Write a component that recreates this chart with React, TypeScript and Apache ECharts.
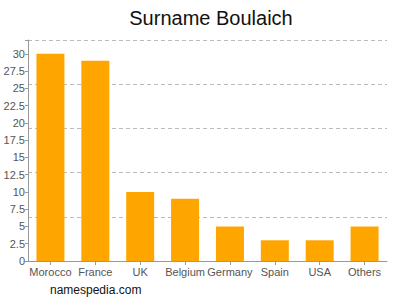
import React, { useEffect, useRef } from "react";
import * as echarts from "echarts";

const categories = ["Morocco", "France", "UK", "Belgium", "Germany", "Spain", "USA", "Others"];
const counts = [30, 29, 10, 9, 5, 3, 3, 5];

export default function App() {
  const ref = useRef<HTMLDivElement>(null);
  useEffect(() => {
    const chart = echarts.init(ref.current!, null, { renderer: "svg" });
    chart.setOption({
      animation: false,
      title: {
        text: "Surname Boulaich",
        left: 206,
        textAlign: "center",
        top: 3,
        textStyle: { fontFamily: "Liberation Sans, Arial", fontSize: 20, fontWeight: "normal", color: "#111" },
      },
      graphic: [
        {
          type: "text",
          left: 50,
          top: 284,
          style: { text: "namespedia.com", font: "12px 'Liberation Sans', Arial", fill: "#111" },
        },
      ],
      grid: { left: 28, right: 13, top: 40, bottom: 39, containLabel: false },
      xAxis: {
        type: "category",
        data: categories,
        axisLine: { lineStyle: { color: "#999" } },
        axisTick: { show: true, alignWithLabel: true, length: 4, lineStyle: { color: "#999" } },
        axisLabel: { color: "#555", fontSize: 11, fontFamily: "Liberation Sans, Arial", margin: 5, interval: 0 },
      },
      yAxis: [
        {
          type: "value",
          min: 0,
          max: 32,
          interval: 2.5,
          axisLine: { show: true, lineStyle: { color: "#999" } },
          axisTick: { show: true, length: 3, lineStyle: { color: "#999" } },
          axisLabel: {
            color: "#555",
            fontSize: 11,
            fontFamily: "Liberation Sans, Arial",
            margin: 3,
            formatter: (v: number) => (v > 30 ? "" : String(v)),
          },
          splitLine: { show: false },
        },
        {
          type: "value",
          min: 0,
          max: 5,
          interval: 1,
          position: "right",
          axisLine: { show: false },
          axisTick: { show: false },
          axisLabel: { show: false },
          splitLine: { show: true, lineStyle: { color: "#bbb", type: [4, 3] } },
        },
      ],
      series: [
        {
          type: "bar",
          data: counts,
          yAxisIndex: 0,
          barWidth: 28,
          itemStyle: { color: "#FFA500" },
        },
      ],
    });
    return () => chart.dispose();
  }, []);
  return <div ref={ref} style={{ width: 400, height: 300, position: "absolute", left: 0, top: 0 }} />;
}
